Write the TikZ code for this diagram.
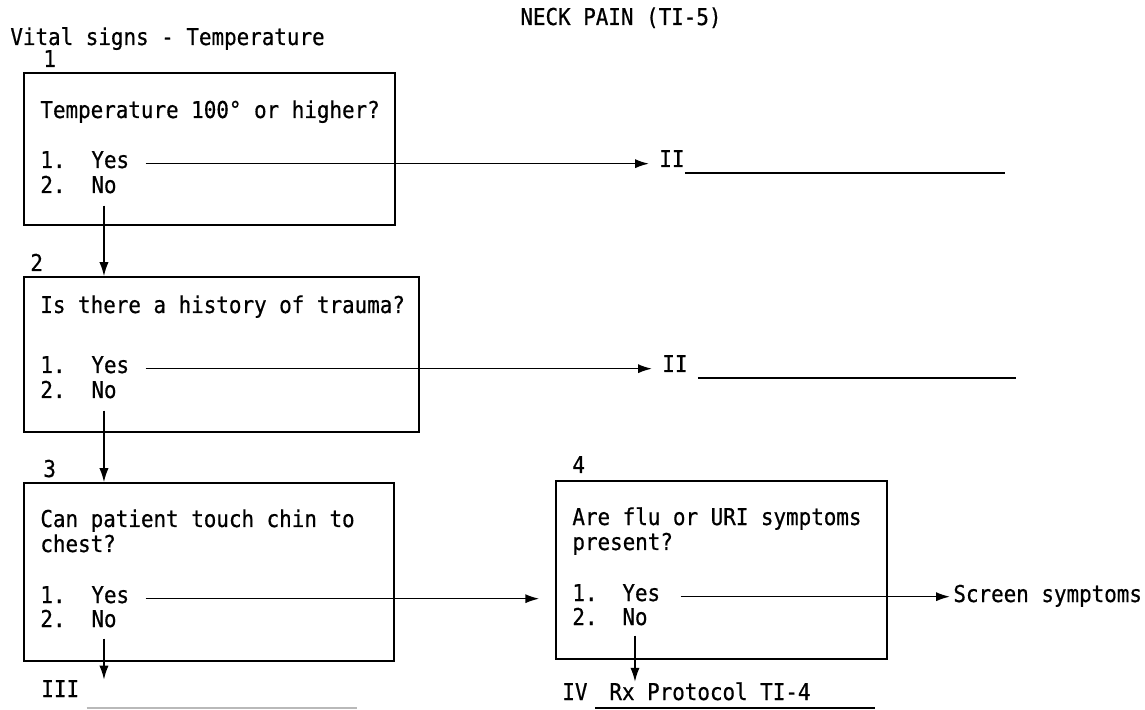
\documentclass[tikz,border=0pt]{standalone}
\usepackage{fontspec}
\setmonofont[FakeStretch=0.9,FakeBold=0.6]{DejaVu Sans Mono}
\usepackage{tikz}
\usetikzlibrary{arrows.meta}
\usetikzlibrary{positioning}

\begin{document}
\begin{tikzpicture}[x=0.5pt,y=-0.5pt,
    txt/.style={font=\ttfamily\fontsize{11.6}{13}\selectfont, inner sep=0pt, anchor=base west},
    qbox/.style={draw, line width=0.75pt, inner sep=0pt},
    arr/.style={line width=0.8pt, -{Latex[length=7pt,width=4.6pt]}},
    uline/.style={line width=0.8pt}]
			\useasboundingbox (0,0) rectangle (1145,710);
			% headings
			\node[txt] (title) at (520,25) {NECK PAIN (TI-5)};
			\node[txt] (vital) at (10,45) {Vital signs - Temperature};
			% boxes
			\node[qbox, minimum width=185.5pt, minimum height=76pt] (b1) at (209.5,149) {};
			\node[qbox, minimum width=197.5pt, minimum height=77.5pt] (b2) at (221.5,354.5) {};
			\node[qbox, minimum width=185pt, minimum height=89pt] (b3) at (209,572) {};
			\node[qbox, minimum width=165.5pt, minimum height=89pt] (b4) at (721.5,570) {};
			\node[txt] (n1) at (43,67) {1};
			\node[txt] (n2) at (30,271) {2};
			\node[txt] (n3) at (43,477) {3};
			\node[txt] (n4) at (572,473) {4};
			% box 1
			\node[txt] (q1) at (40,118) {Temperature 100° or higher?};
			\node[txt] (o11) at (40,168) {1.};
			\node[txt] (yes1) at (91,168) {Yes};
			\node[txt] (o12) at (40,193) {2.};
			\node[txt] (no1) at (91,193) {No};
			% box 2
			\node[txt] (q2) at (40,313) {Is there a history of trauma?};
			\node[txt] (o21) at (40,373) {1.};
			\node[txt] (yes2) at (91,373) {Yes};
			\node[txt] (o22) at (40,398) {2.};
			\node[txt] (no2) at (91,398) {No};
			% box 3
			\node[txt] (q3a) at (40,527) {Can patient touch chin to};
			\node[txt] (q3b) at (40,552) {chest?};
			\node[txt] (o31) at (40,603) {1.};
			\node[txt] (yes3) at (91,603) {Yes};
			\node[txt] (o32) at (40,627) {2.};
			\node[txt] (no3) at (91,627) {No};
			% box 4
			\node[txt] (q4a) at (572,525) {Are flu or URI symptoms};
			\node[txt] (q4b) at (572,550) {present?};
			\node[txt] (o41) at (572,601) {1.};
			\node[txt] (yes4) at (622,601) {Yes};
			\node[txt] (o42) at (572,625) {2.};
			\node[txt] (no4) at (622,625) {No};
			% outcomes
			\node[txt] (ii1) at (659,167) {II};
			\node[txt] (ii2) at (662,372) {II};
			\node[txt] (iii) at (41,697) {III};
			\node[txt] (iv) at (562,700) {IV};
			\node[txt] (rx) at (609,700) {Rx Protocol TI-4};
			\node[txt] (screen) at (953,602) {Screen symptoms};
			% blanks
			\draw[uline] ([yshift=-3pt]ii1.base east) -- ++(320,0);
			\draw[uline] ([xshift=5pt,yshift=-3pt]ii2.base east) -- ++(318,0);
			\draw[uline, gray!55] ([xshift=3.5pt,yshift=-5.5pt]iii.base east) -- ++(270,0);
			\draw[uline] ([xshift=-7pt,yshift=-4pt]rx.base west) -- ++(280,0);
			% connectors
			\path[arr]
			([xshift=8pt]yes1.mid east) edge[shorten >=5pt] (yes1.mid east -| ii1.west)
			([xshift=8pt]yes2.mid east) edge[shorten >=5pt] (yes2.mid east -| ii2.west)
			([xshift=8pt]yes3.mid east) edge[shorten >=8pt] (yes3.mid east -| b4.west)
			([xshift=10pt]yes4.mid east) edge[shorten >=1.5pt] (yes4.mid east -| screen.west)
			([yshift=-6pt]no1.south) edge (no1.south |- b2.north)
			([yshift=-6pt]no2.south) edge (no2.south |- b3.north)
			([yshift=-5.5pt]no3.south) edge (no3.south |- iii.north)
			([yshift=-5pt]no4.south) edge (no4.south |- rx.north);
		\end{tikzpicture}
\end{document}
